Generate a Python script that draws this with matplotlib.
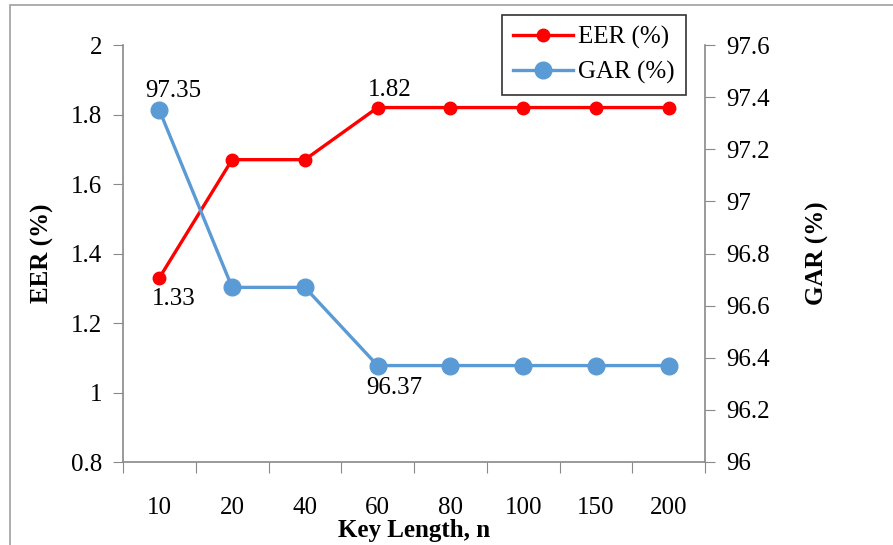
import matplotlib.pyplot as plt
from matplotlib.patches import Rectangle

# data
key_lengths = ['10', '20', '40', '60', '80', '100', '150', '200']
eer = [1.33, 1.67, 1.67, 1.82, 1.82, 1.82, 1.82, 1.82]
gar = [97.35, 96.67, 96.67, 96.37, 96.37, 96.37, 96.37, 96.37]

eer_ticks = [0.8, 1.0, 1.2, 1.4, 1.6, 1.8, 2.0]
gar_ticks = [96.0, 96.2, 96.4, 96.6, 96.8, 97.0, 97.2, 97.4, 97.6]

plt.rcParams['font.family'] = ['Liberation Serif', 'DejaVu Serif']
axis_grey = '#898989'
fs = 18

fig = plt.figure(figsize=(8.93, 5.45), dpi=100)
# outer chart border (only left/top visible in the crop)
fig.patches.append(Rectangle((10 / 893, -0.1), 1.2, 1.1 - 5.5 / 545,
                             transform=fig.transFigure, fill=False,
                             edgecolor='#a0a0a0', linewidth=1.2))

ax = fig.add_axes([123 / 893, 1 - 462 / 545, (705 - 123) / 893, (462 - 45) / 545])
ax2 = ax.twinx()

x = list(range(len(key_lengths)))
l1, = ax.plot(x, eer, color='#ff0000', lw=2.4, marker='o', ms=9, label='EER (%)', zorder=3)
l2, = ax2.plot(x, gar, color='#5b9bd5', lw=2.4, marker='o', ms=12, label='GAR (%)', zorder=3)

ax.set_xlim(-0.5, len(key_lengths) - 0.5)
ax.set_ylim(0.8, 2.0)
ax2.set_ylim(96.0, 97.6)

ax.set_yticks(eer_ticks)
ax.set_yticklabels([f'{v:g}' for v in eer_ticks])
ax2.set_yticks(gar_ticks)
ax2.set_yticklabels([f'{v:g}' for v in gar_ticks])

# category ticks between the categories, labels in the middle
ax.set_xticks([i - 0.5 for i in range(len(key_lengths) + 1)])
ax.set_xticklabels([])
ax.set_xticks(x, minor=True)
ax.set_xticklabels(key_lengths, minor=True)
ax.tick_params(axis='x', which='major', length=8, color=axis_grey, direction='out')
ax.tick_params(axis='x', which='minor', length=0, pad=25, labelsize=fs)

ax.tick_params(axis='y', length=7, color=axis_grey, labelsize=fs, pad=8)
ax2.tick_params(axis='y', length=7, color=axis_grey, labelsize=fs, pad=8)

for a in (ax, ax2):
    a.spines['top'].set_visible(False)
    for s in ('left', 'right', 'bottom'):
        a.spines[s].set_color(axis_grey)
        a.spines[s].set_linewidth(1.2)
ax.spines['right'].set_visible(False)
ax2.spines['left'].set_visible(False)
ax2.spines['bottom'].set_visible(False)

ax.set_xlabel('Key Length, n', fontsize=fs, fontweight='bold', labelpad=0)
ax.set_ylabel('EER (%)', fontsize=fs, fontweight='bold', labelpad=12)
ax2.set_ylabel('GAR (%)', fontsize=fs, fontweight='bold', labelpad=26)

# data labels
ax.annotate(f'{eer[0]:.2f}', (x[0], eer[0]), xytext=(10, -7), textcoords='offset points',
            ha='center', va='top', fontsize=fs)
ax.annotate(f'{eer[3]:.2f}', (x[3], eer[3]), xytext=(9, 5), textcoords='offset points',
            ha='center', va='bottom', fontsize=fs)
ax2.annotate(f'{gar[0]:.2f}', (x[0], gar[0]), xytext=(10, 6), textcoords='offset points',
             ha='center', va='bottom', fontsize=fs)
ax2.annotate(f'{gar[3]:.2f}', (x[3], gar[3]), xytext=(12, -8), textcoords='offset points',
             ha='center', va='top', fontsize=fs)

leg = fig.legend([l1, l2], ['EER (%)', 'GAR (%)'], loc='upper left',
                 bbox_to_anchor=(502 / 893, 1 - 15 / 545), borderaxespad=0, fontsize=fs,
                 frameon=True, fancybox=False, edgecolor='black', handlelength=2.4,
                 handletextpad=0.2, borderpad=0.45, labelspacing=0.45)
leg.get_frame().set_linewidth(1.2)

fig.savefig('out.png', dpi=100)
